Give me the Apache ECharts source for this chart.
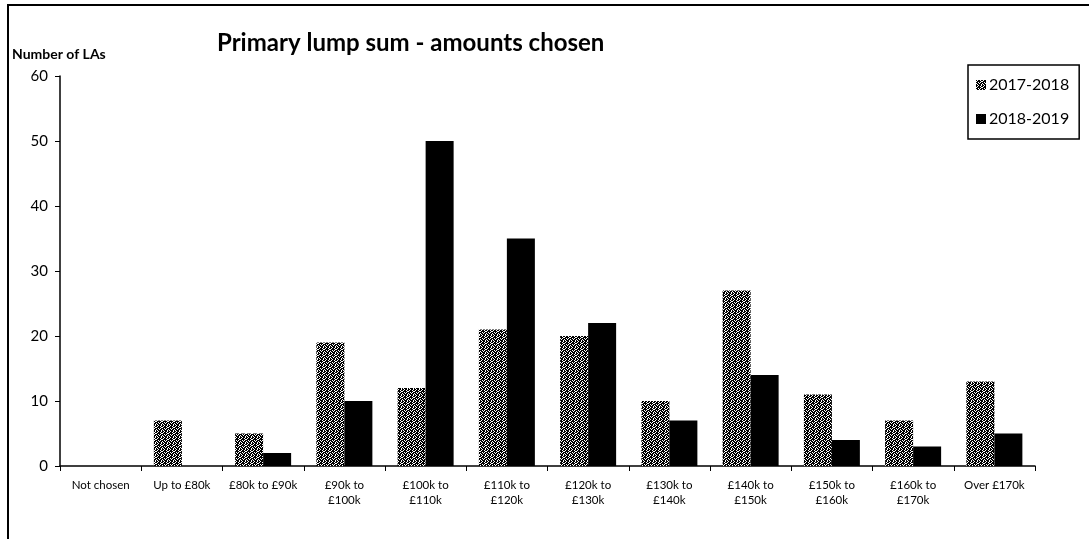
<!DOCTYPE html>
<html><head><meta charset="utf-8">
<script src="https://cdn.jsdelivr.net/npm/echarts@6/dist/echarts.min.js"></script>
<style>html,body{margin:0;padding:0;background:#fff}#c{width:1089px;height:539px}</style>
</head><body><div id="c"></div>
<script>
const categories = ['Not chosen','Up to £80k','£80k to £90k','£90k to\n£100k','£100k to\n£110k','£110k to\n£120k','£120k to\n£130k','£130k to\n£140k','£140k to\n£150k','£150k to\n£160k','£160k to\n£170k','Over £170k'];
const s2017 = [0, 7, 5, 19, 12, 21, 20, 10, 27, 11, 7, 13];
const s2018 = [0, 0, 2, 10, 50, 35, 22, 7, 14, 4, 3, 5];
const seriesNames = ['2017-2018', '2018-2019'];

// dithered texture for the first series
const pat = document.createElement('canvas');
pat.width = 6; pat.height = 6;
const pctx = pat.getContext('2d');
pctx.fillStyle = '#ffffff'; pctx.fillRect(0,0,6,6);
pctx.fillStyle = '#000000';
const bits = ['101101','011110','110101','011011','101110','110110'];
bits.forEach((row, y) => { for (let x = 0; x < 6; x++) if (row[x] === '1') pctx.fillRect(x, y, 1, 1); });
const grayFill = { image: pat, repeat: 'repeat' };

const FONT = 'Lato, "Open Sans", sans-serif';
const chart = echarts.init(document.getElementById('c'), null, {renderer: 'canvas'});
chart.setOption({
  animation: false,
  backgroundColor: '#fff',
  textStyle: { fontFamily: FONT, color: '#000' },
  graphic: [
    { type: 'rect', shape: { x: 8, y: 5, width: 1100, height: 600 }, style: { fill: 'none', stroke: '#000', lineWidth: 2 }, silent: true },
    { type: 'text', left: 217, top: 31, style: { text: 'Primary lump sum - amounts chosen', font: 'bold 24px ' + FONT, fill: '#000' } },
    { type: 'text', left: 12, top: 47, style: { text: 'Number of LAs', font: 'bold 14px ' + FONT, fill: '#000' } }
  ],
  legend: {
    orient: 'vertical',
    left: 968, top: 65,
    padding: [12, 10, 12, 8],
    itemGap: 18,
    itemWidth: 10, itemHeight: 10,
    borderColor: '#000', borderWidth: 1.5,
    icon: 'rect',
    textStyle: { fontSize: 16, color: '#000', fontFamily: FONT, padding: [0, 0, 0, -2] },
    data: seriesNames
  },
  grid: { left: 60, right: 54, top: 76, bottom: 73, containLabel: false },
  xAxis: {
    type: 'category',
    data: categories,
    axisLine: { lineStyle: { color: '#000', width: 1.5 } },
    axisTick: { show: true, alignWithLabel: false, length: 5, lineStyle: { color: '#000' } },
    axisLabel: { interval: 0, color: '#000', fontSize: 11.5, lineHeight: 15, margin: 12, fontFamily: FONT }
  },
  yAxis: {
    type: 'value', min: 0, max: 60, interval: 10,
    axisLine: { show: true, lineStyle: { color: '#000', width: 1.5 } },
    axisTick: { show: true, inside: false, length: 5, lineStyle: { color: '#000' } },
    splitLine: { show: false },
    axisLabel: { color: '#000', fontSize: 15, margin: 12, fontFamily: FONT }
  },
  series: [
    { name: seriesNames[0], type: 'bar', data: s2017, barWidth: 28, barGap: '0%', itemStyle: { color: grayFill } },
    { name: seriesNames[1], type: 'bar', data: s2018, barWidth: 28, barGap: '0%', itemStyle: { color: '#000' } }
  ]
});
</script></body></html>
